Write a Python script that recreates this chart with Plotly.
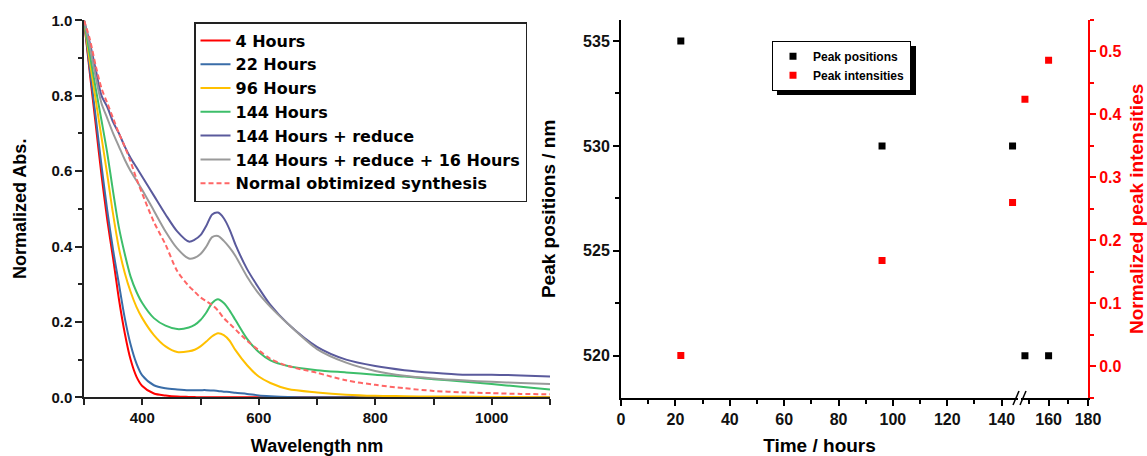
import plotly.graph_objects as go

W, H = 1147, 456

# ---------------- data: left chart (UV-vis spectra) ----------------
wavelength = [300, 310, 320, 330, 340, 350, 360, 370, 380, 390, 400, 420, 440, 460, 480, 490, 500, 510,
              520, 530, 540, 550, 560, 580, 600, 620, 650, 700, 750, 800, 850, 900, 950, 1000, 1050, 1100]
abs_4h = [1.0, 0.86, 0.725, 0.59, 0.47, 0.368, 0.26, 0.17, 0.10, 0.055, 0.03, 0.01, 0.005, 0.002, 0.001, 0.0005, 0.0, 0.0,
          0.0, 0.0, 0.0, 0.0, 0.0, 0.0, 0.0, 0.0, 0.0, 0.0, 0.0, 0.0, 0.0, 0.0, 0.0, 0.0, 0.0, 0.0]
abs_22h = [1.0, 0.87, 0.745, 0.615, 0.495, 0.39, 0.30, 0.21, 0.14, 0.09, 0.058, 0.032, 0.024, 0.021, 0.019, 0.019, 0.019, 0.019,
           0.018, 0.017, 0.015, 0.014, 0.012, 0.009, 0.005, 0.003, 0.001, 0.0, 0.0, 0.0, 0.0, 0.0, 0.0, 0.0, 0.0, 0.0]
abs_96h = [1.0, 0.89, 0.79, 0.69, 0.59, 0.485, 0.395, 0.33, 0.28, 0.24, 0.21, 0.165, 0.135, 0.12, 0.122, 0.126, 0.135, 0.148,
           0.162, 0.170, 0.165, 0.15, 0.125, 0.085, 0.055, 0.038, 0.022, 0.013, 0.007, 0.004, 0.003, 0.002, 0.002, 0.001, 0.001, 0.0]
abs_144h = [1.0, 0.91, 0.82, 0.735, 0.647, 0.545, 0.45, 0.38, 0.32, 0.28, 0.25, 0.21, 0.19, 0.181, 0.185, 0.192, 0.205, 0.225,
            0.25, 0.26, 0.25, 0.23, 0.205, 0.155, 0.12, 0.098, 0.083, 0.072, 0.066, 0.06, 0.055, 0.048, 0.042, 0.035, 0.028, 0.021]
abs_144h_red = [1.0, 0.94, 0.87, 0.80, 0.77, 0.73, 0.70, 0.665, 0.635, 0.61, 0.585, 0.535, 0.485, 0.44, 0.413, 0.418, 0.43, 0.455,
                0.485, 0.49, 0.475, 0.445, 0.405, 0.34, 0.29, 0.245, 0.195, 0.134, 0.10, 0.083, 0.072, 0.065, 0.06, 0.06, 0.058, 0.055]
abs_144h_red_16h = [1.0, 0.93, 0.85, 0.78, 0.74, 0.70, 0.665, 0.63, 0.60, 0.575, 0.55, 0.495, 0.44, 0.395, 0.368, 0.37, 0.38, 0.40,
                    0.425, 0.428, 0.415, 0.397, 0.375, 0.32, 0.275, 0.24, 0.195, 0.128, 0.092, 0.07, 0.057, 0.05, 0.045, 0.041, 0.038, 0.035]
abs_normal = [1.0, 0.95, 0.88, 0.82, 0.78, 0.74, 0.70, 0.665, 0.625, 0.58, 0.54, 0.465, 0.405, 0.335, 0.295, 0.28, 0.265, 0.255,
              0.245, 0.23, 0.21, 0.195, 0.18, 0.15, 0.125, 0.102, 0.083, 0.065, 0.045, 0.033, 0.024, 0.017, 0.013, 0.011, 0.009, 0.008]

series_names = ["4 Hours", "22 Hours", "96 Hours", "144 Hours", "144 Hours + reduce",
                "144 Hours + reduce + 16 Hours", "Normal obtimized synthesis"]
series_values = [abs_4h, abs_22h, abs_96h, abs_144h, abs_144h_red, abs_144h_red_16h, abs_normal]
series_colors = ["#FF0000", "#3A6DA8", "#FFC000", "#3DBE6A", "#5A5A9C", "#9A9A9A", "#FF6666"]
series_dash = ["solid"] * 6 + ["5px,3px"]

# ---------------- data: right chart (peak evolution) ----------------
time_hours = [22, 96, 144, 148, 160]
peak_positions = [535, 530, 530, 520, 520]
peak_intensities = [0.017, 0.168, 0.26, 0.424, 0.486]
axis_break = 146

x_ticks_pre = [0, 20, 40, 60, 80, 100, 120, 140]
x_ticks_post = [160, 180]


def px(x):
    return x / W


def py(y):
    return 1 - y / H


fig = go.Figure()

FONT = "Liberation Sans, Arial, sans-serif"
WIDE = "DejaVu Sans, Verdana, sans-serif"

# ---------------- left chart ----------------
for name, vals, col, dash in zip(series_names, series_values, series_colors, series_dash):
    fig.add_trace(go.Scatter(
        x=wavelength, y=vals, name=name, mode="lines",
        line=dict(color=col, width=2, dash=dash, shape="spline", smoothing=0.8),
        xaxis="x", yaxis="y", legend="legend",
    ))

# ---------------- right chart ----------------
pre = [i for i, t in enumerate(time_hours) if t < axis_break]
post = [i for i, t in enumerate(time_hours) if t >= axis_break]

fig.add_trace(go.Scatter(
    x=[time_hours[i] for i in pre], y=[peak_positions[i] for i in pre],
    name="Peak positions", mode="markers", legendgroup="pos",
    marker=dict(symbol="square", size=7, color="#000000"),
    xaxis="x3", yaxis="y3", legend="legend2"))
fig.add_trace(go.Scatter(
    x=[time_hours[i] for i in post], y=[peak_positions[i] for i in post],
    name="Peak positions", mode="markers", legendgroup="pos", showlegend=False,
    marker=dict(symbol="square", size=7, color="#000000"),
    xaxis="x4", yaxis="y3", legend="legend2"))
fig.add_trace(go.Scatter(
    x=[time_hours[i] for i in pre], y=[peak_intensities[i] for i in pre],
    name="Peak intensities", mode="markers", legendgroup="int",
    marker=dict(symbol="square", size=7, color="#FF0000"),
    xaxis="x3", yaxis="y4", legend="legend2"))
fig.add_trace(go.Scatter(
    x=[time_hours[i] for i in post], y=[peak_intensities[i] for i in post],
    name="Peak intensities", mode="markers", legendgroup="int", showlegend=False,
    marker=dict(symbol="square", size=7, color="#FF0000"),
    xaxis="x4", yaxis="y4", legend="legend2"))

tickfont_l = dict(family=FONT, size=15, color="#111111", weight="bold")
tickfont_r = dict(family=FONT, size=16, color="#111111", weight="bold")
titlefont = dict(family=FONT, size=18, color="#000000", weight="bold")
titlefont_r = dict(family=FONT, size=19, color="#000000", weight="bold")

left_dom_x = [px(84), px(550)]
left_dom_y = [py(397.3), py(20.3)]
right_dom_y = [py(397.7), py(20)]
x3_dom = [px(621), px(1018)]
x4_dom = [px(1021), px(1088)]

fig.update_layout(
    width=W, height=H,
    margin=dict(l=0, r=0, t=0, b=0, autoexpand=False),
    paper_bgcolor="white", plot_bgcolor="white",
    font=dict(family=FONT),
    xaxis=dict(domain=left_dom_x, anchor="y", range=[300, 1100], automargin=False,
               tickmode="array", tickvals=[400, 600, 800, 1000],
               ticks="outside", ticklen=6, tickwidth=1.5, tickcolor="#222",
               showline=True, linecolor="#222", linewidth=1.5,
               showgrid=False, zeroline=False, tickfont=tickfont_l,
               minor=dict(tickmode="array", tickvals=[300, 500, 700, 900, 1100], ticks="outside",
                          ticklen=6, tickwidth=1.5, tickcolor="#222", showgrid=False),
               title=dict(text="Wavelength nm", font=titlefont, standoff=19)),
    yaxis=dict(domain=left_dom_y, anchor="x", range=[0, 1.0], automargin=False,
               tickmode="array", tickvals=[0, 0.2, 0.4, 0.6, 0.8, 1.0], tickformat=".1f",
               ticks="outside", ticklen=7, tickwidth=1.5, tickcolor="#222",
               showline=True, linecolor="#222", linewidth=1.5,
               showgrid=False, zeroline=False, tickfont=tickfont_l,
               minor=dict(tickmode="array", tickvals=[0.1, 0.3, 0.5, 0.7, 0.9], ticks="outside",
                          ticklen=4, tickwidth=1.5, tickcolor="#222", showgrid=False),
               title=dict(text="Normalized Abs.", font=titlefont, standoff=20)),
    xaxis3=dict(domain=x3_dom, anchor="y3", range=[0, axis_break], automargin=False,
                tickmode="array", tickvals=x_ticks_pre,
                ticks="outside", ticklen=6, tickwidth=2, tickcolor="#000",
                showline=True, linecolor="#000", linewidth=2,
                showgrid=False, zeroline=False, tickfont=tickfont_r,
                minor=dict(tickmode="array", tickvals=[10, 30, 50, 70, 90, 110, 130], ticks="outside",
                           ticklen=4, tickwidth=2, tickcolor="#000", showgrid=False),
                title=dict(text="Time / hours", font=titlefont_r, standoff=19)),
    xaxis4=dict(domain=x4_dom, anchor="y3", range=[axis_break, 180], automargin=False,
                tickmode="array", tickvals=x_ticks_post,
                ticks="outside", ticklen=6, tickwidth=2, tickcolor="#000",
                showline=True, linecolor="#000", linewidth=2,
                showgrid=False, zeroline=False, tickfont=tickfont_r,
                minor=dict(tickmode="array", tickvals=[150, 170], ticks="outside",
                           ticklen=4, tickwidth=2, tickcolor="#000", showgrid=False)),
    yaxis3=dict(domain=right_dom_y, anchor="x3", range=[518, 536], automargin=False,
                tickmode="array", tickvals=[520, 525, 530, 535],
                ticks="outside", ticklen=6, tickwidth=2, tickcolor="#000",
                showline=True, linecolor="#000", linewidth=2,
                showgrid=False, zeroline=False, tickfont=tickfont_r,
                minor=dict(tickmode="array", tickvals=[522.5, 527.5, 532.5], ticks="outside",
                           ticklen=4, tickwidth=2, tickcolor="#000", showgrid=False),
                title=dict(text="Peak positions / nm", font=titlefont_r, standoff=22)),
    yaxis4=dict(domain=right_dom_y, anchor="x4", overlaying="y3", side="right",
                range=[-0.05, 0.55], automargin=False,
                tickmode="array", tickvals=[0, 0.1, 0.2, 0.3, 0.4, 0.5], tickformat=".1f",
                ticks="outside", ticklen=6, tickwidth=2, tickcolor="#FF0000",
                showline=True, linecolor="#FF0000", linewidth=2,
                showgrid=False, zeroline=False,
                tickfont=dict(family=FONT, size=16, color="#FF0000", weight="bold"),
                minor=dict(tickmode="array", tickvals=[-0.05, 0.05, 0.15, 0.25, 0.35, 0.45, 0.55],
                           ticks="outside", ticklen=4, tickwidth=2, tickcolor="#FF0000", showgrid=False),
                title=dict(text="Normalized peak intensities", standoff=11,
                           font=dict(family=FONT, size=19, color="#FF0000", weight="bold"))),
    legend=dict(x=px(194), y=py(22), xanchor="left", yanchor="top",
                bgcolor="white", bordercolor="#222", borderwidth=1.5,
                font=dict(family=WIDE, size=16, color="#000", weight="bold"),
                tracegroupgap=0, itemwidth=30),
    legend2=dict(x=px(772), y=py(40.7), xanchor="left", yanchor="top",
                 bgcolor="white", bordercolor="#000", borderwidth=1,
                 font=dict(family=FONT, size=12, color="#000", weight="bold"),
                 tracegroupgap=0, itemwidth=30),
    showlegend=True,
)

# legend drop shadow (decoration)
fig.add_shape(type="rect", xref="paper", yref="paper",
              x0=px(777), x1=px(916), y0=py(95), y1=py(46),
              fillcolor="#000", line=dict(width=0), layer="above")

# axis break marks
for xs in (1013, 1020):
    fig.add_shape(type="line", xref="paper", yref="paper",
                  x0=px(xs), y0=py(405), x1=px(xs + 6), y1=py(391),
                  line=dict(color="#000", width=1.5), layer="above")

fig.write_html("out.html")
